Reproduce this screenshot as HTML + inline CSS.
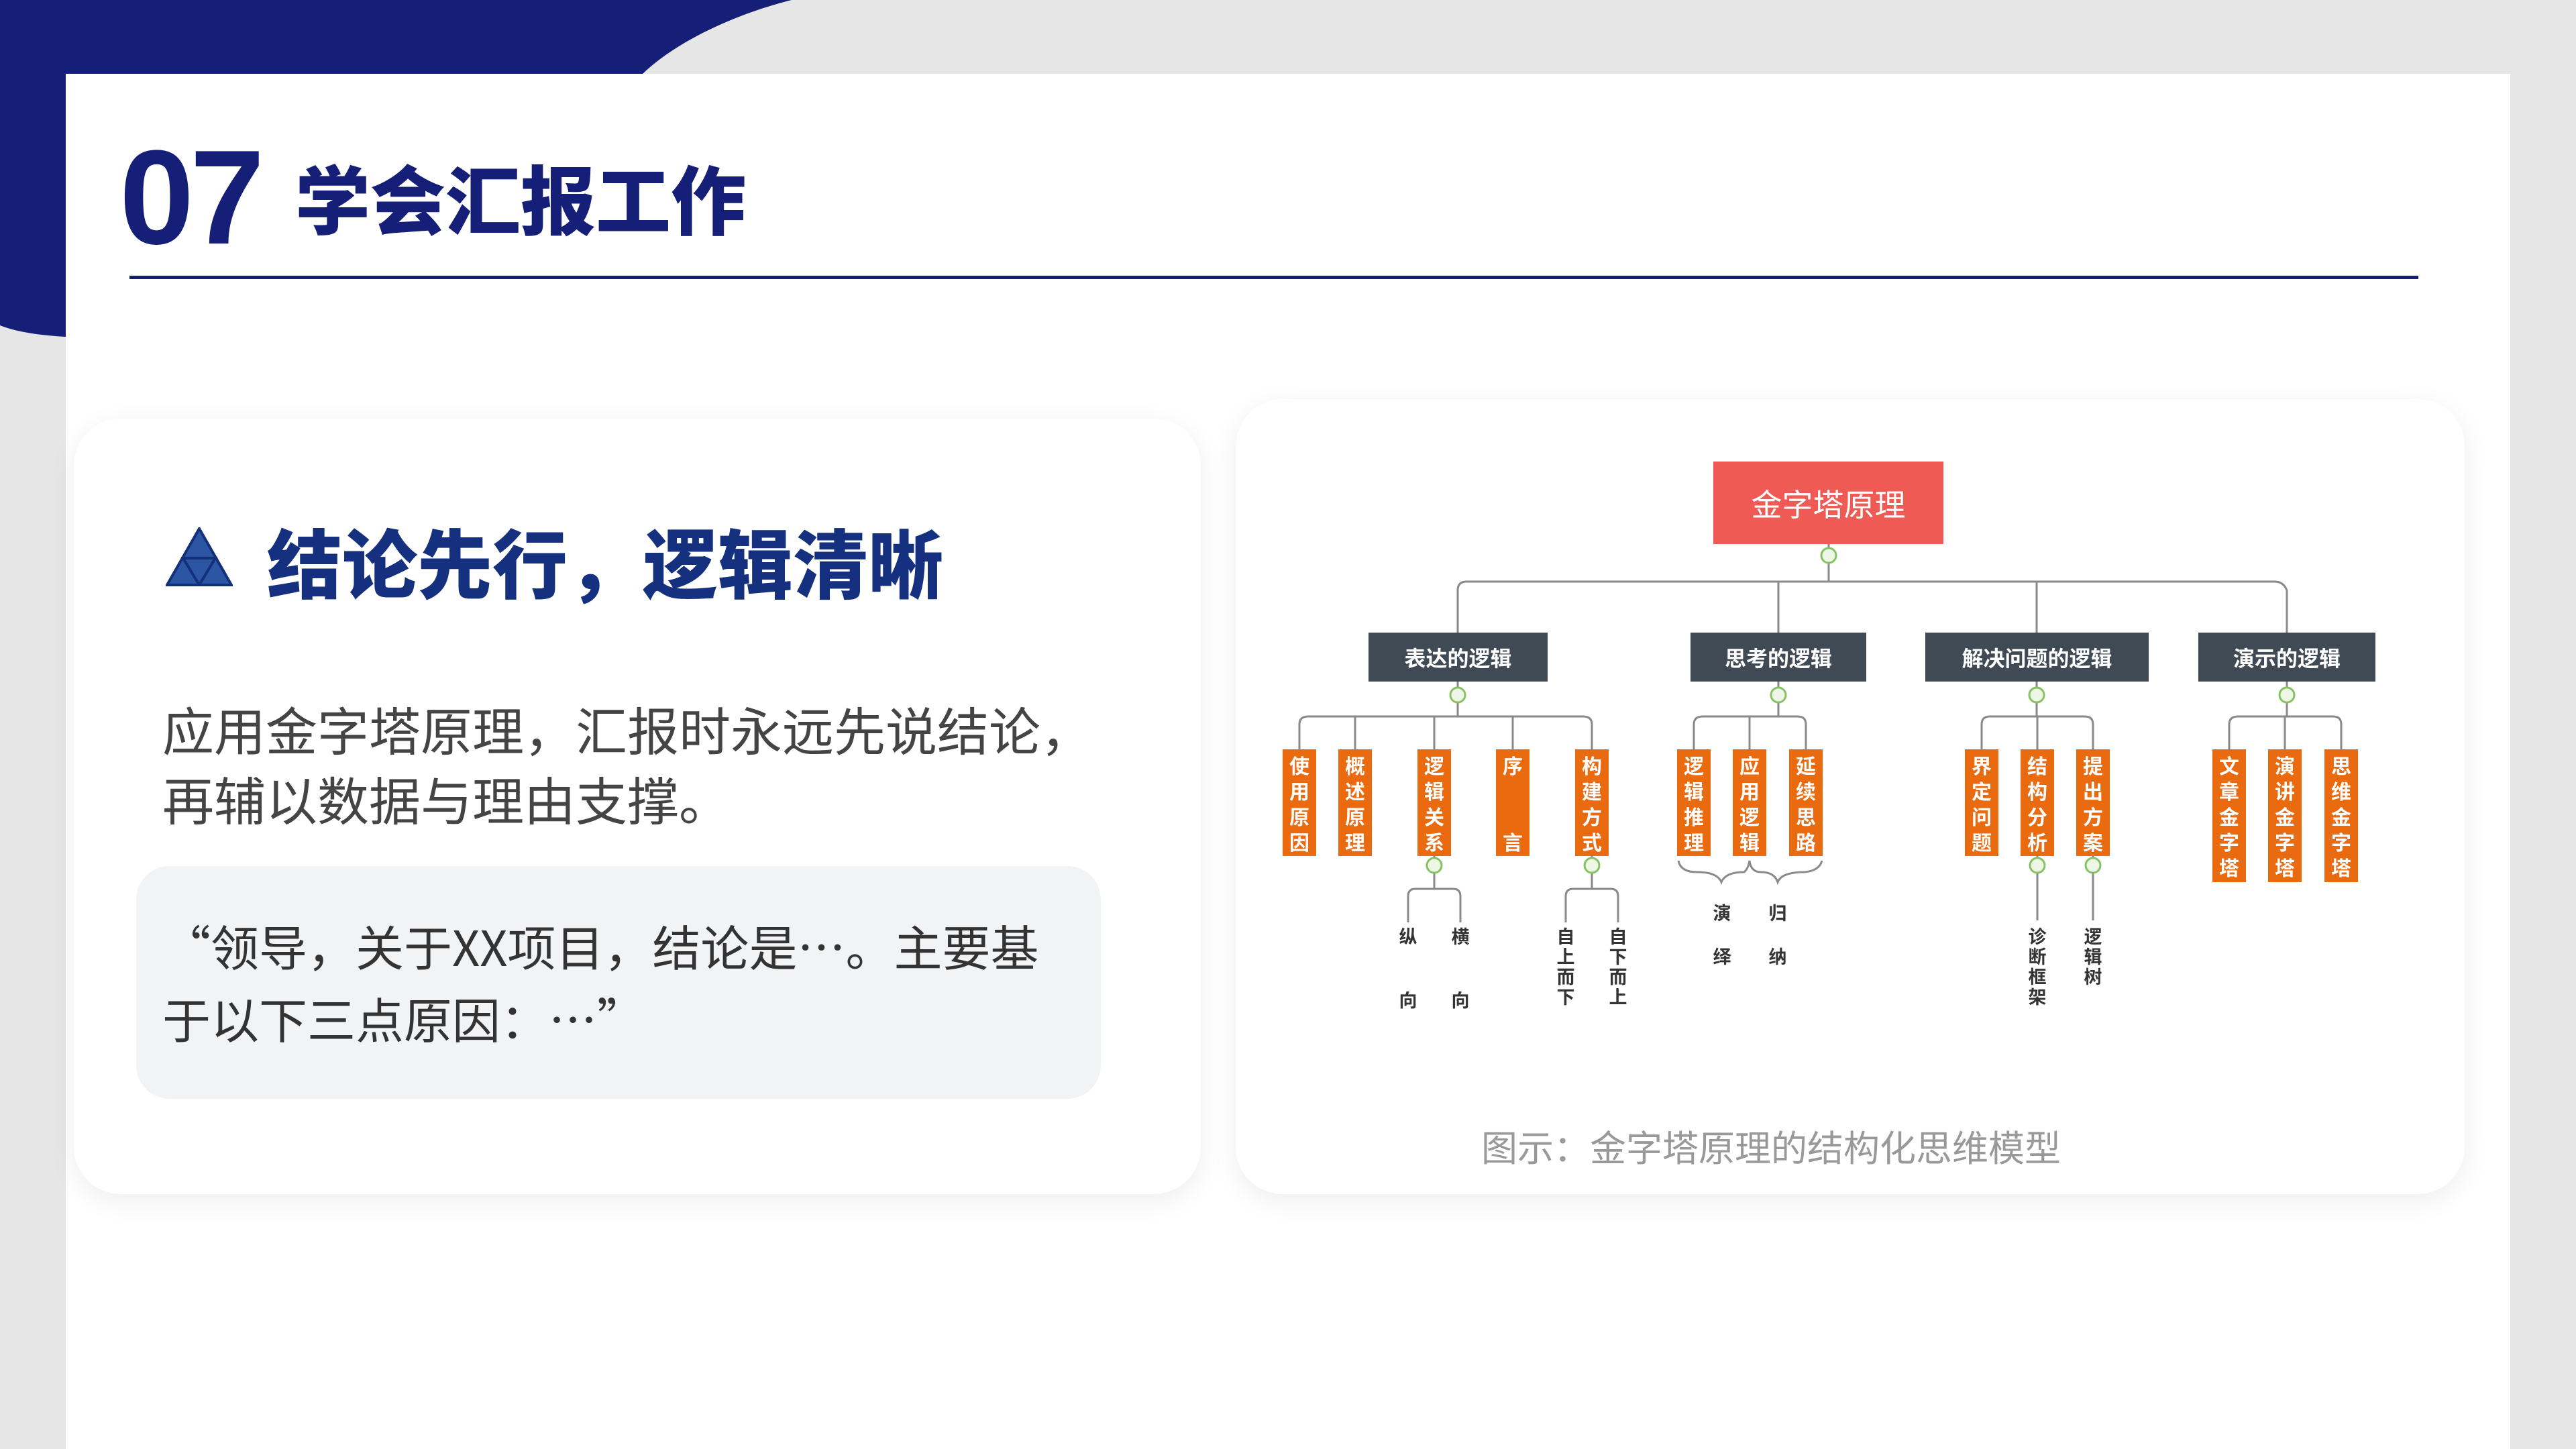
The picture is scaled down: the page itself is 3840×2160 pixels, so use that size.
<!DOCTYPE html>
<html><head><meta charset="utf-8"><style>
*{margin:0;padding:0;box-sizing:border-box}
body{width:3840px;height:2160px;background:#e6e6e6;position:relative;overflow:hidden;font-family:"Liberation Sans","Noto Sans CJK SC",sans-serif}
.a{position:absolute}
.card{position:absolute;background:#fff;border-radius:70px;box-shadow:0 10px 40px rgba(0,0,0,0.07)}
.l2{position:absolute;top:943px;height:73px;background:#3f4a54;color:#fff;font-weight:bold;font-size:32px;display:flex;align-items:center;justify-content:center;font-family:"Noto Sans CJK SC",sans-serif}
.o{position:absolute;top:1117px;width:50px;background:#ea6a10;color:#fff;font-weight:bold;font-size:30px;line-height:38px;text-align:center;padding-top:4px;font-family:"Noto Sans CJK SC",sans-serif}
.t{position:absolute;color:#333;font-size:27px;line-height:30px;text-align:center;width:40px;font-family:"Noto Sans CJK SC",sans-serif;font-weight:bold}
</style></head><body>
<svg class="a" style="left:0;top:0" width="1300" height="520"><path d="M0 0H1180C1100 20 1010 60 958 110H98V502C60 500 25 495 0 485Z" fill="#161f78"/></svg>
<div class="a" style="left:98px;top:110px;width:3644px;height:2050px;background:#fff"></div>
<div class="a" style="left:178px;top:195px;font-size:200px;font-weight:bold;color:#161f78;line-height:200px;letter-spacing:-6px">07</div>
<div class="a" style="left:440px;top:228px;font-size:112px;font-weight:900;color:#161f78;line-height:130px;font-family:'Noto Sans CJK SC',sans-serif">学会汇报工作</div>
<div class="a" style="left:193px;top:411px;width:3412px;height:5px;background:#161f78"></div>

<div class="card" style="left:110px;top:624px;width:1680px;height:1156px"></div>
<svg class="a" style="left:247px;top:786px" width="100" height="88"><polygon points="50,2 98,86 2,86" fill="#2c55a3" stroke="#13307a" stroke-width="4"/><polygon points="26,46 74,46 50,86" fill="none" stroke="#13307a" stroke-width="4"/></svg>
<div class="a" style="left:398px;top:770px;font-size:112px;font-weight:900;color:#14307e;line-height:130px;font-family:'Noto Sans CJK SC',sans-serif">结论先行，逻辑清晰</div>
<div class="a" style="left:242px;top:1035px;font-size:77px;color:#444;line-height:104px;font-family:'Noto Sans CJK SC',sans-serif">应用金字塔原理，汇报时永远先说结论，<br>再辅以数据与理由支撑。</div>
<div class="a" style="left:203px;top:1291px;width:1438px;height:347px;background:#f2f3f5;border-radius:50px"></div>
<div class="a" style="left:242px;top:1355px;width:1360px;font-size:72px;color:#333;line-height:108px;font-family:'Noto Sans CJK SC',sans-serif">“领导，关于XX项目，结论是…。主要基<br>于以下三点原因：…”</div>

<div class="card" style="left:1842px;top:595px;width:1832px;height:1185px"></div>
<div class="a" style="left:2000px;top:1668px;width:1280px;text-align:center;font-size:54px;color:#999;line-height:80px;font-family:'Noto Sans CJK SC',sans-serif">图示：金字塔原理的结构化思维模型</div>

<svg class="a" style="left:0;top:0" width="3840" height="2160" fill="none" stroke="#8a8a8a" stroke-width="3">
<path d="M2726 811V867M2173 943V880Q2173 867 2186 867H3391Q3404 867 3409 880V943M2651 867V943M3036 867V943"/>
<path d="M2173 1016V1068M1937 1117V1080Q1937 1068 1950 1068H2360Q2373 1068 2373 1080V1117M2020 1068V1117M2138 1068V1117M2255 1068V1117"/>
<path d="M2651 1016V1068M2525 1117V1080Q2525 1068 2538 1068H2680Q2692 1068 2692 1080V1117M2608 1068V1117"/>
<path d="M3036 1016V1068M2954 1117V1080Q2954 1068 2966 1068H3108Q3120 1068 3120 1080V1117M3037 1068V1117"/>
<path d="M3409 1016V1068M3323 1117V1080Q3323 1068 3336 1068H3478Q3490 1068 3490 1080V1117M3406 1068V1117"/>
<path d="M2138 1276V1325M2099 1375V1336Q2099 1325 2110 1325H2166Q2177 1325 2177 1336V1375"/>
<path d="M2373 1276V1325M2334 1375V1336Q2334 1325 2345 1325H2401Q2412 1325 2412 1336V1375"/>
<path d="M3037 1276V1372M3120 1276V1372"/>
<path d="M2502 1283Q2505 1300 2530 1300Q2560 1300 2566 1315Q2572 1300 2600 1300Q2606 1295 2608 1283M2608 1283Q2610 1300 2625 1300Q2645 1300 2650 1315Q2656 1300 2690 1300Q2712 1298 2716 1283"/>
</svg>
<svg class="a" style="left:0;top:0" width="3840" height="2160">
<g fill="#eef7e6" stroke="#86c264" stroke-width="3">
<circle cx="2726" cy="828" r="11"/><circle cx="2173" cy="1036" r="11"/><circle cx="2651" cy="1036" r="11"/><circle cx="3036" cy="1036" r="11"/><circle cx="3409" cy="1036" r="11"/>
<circle cx="2138" cy="1290" r="11"/><circle cx="2373" cy="1290" r="11"/><circle cx="3037" cy="1290" r="11"/><circle cx="3120" cy="1290" r="11"/>
</g></svg>

<div class="a" style="left:2554px;top:688px;width:343px;height:123px;background:#f05a55;color:#fff;font-size:46px;display:flex;align-items:center;justify-content:center;font-family:'Noto Sans CJK SC',sans-serif">金字塔原理</div>
<div class="l2" style="left:2040px;width:267px">表达的逻辑</div>
<div class="l2" style="left:2520px;width:262px">思考的逻辑</div>
<div class="l2" style="left:2870px;width:333px">解决问题的逻辑</div>
<div class="l2" style="left:3277px;width:264px">演示的逻辑</div>

<div class="o" style="left:1912px;height:159px">使<br>用<br>原<br>因</div>
<div class="o" style="left:1995px;height:159px">概<br>述<br>原<br>理</div>
<div class="o" style="left:2113px;height:159px">逻<br>辑<br>关<br>系</div>
<div class="o" style="left:2230px;height:159px">序<br><br><br>言</div>
<div class="o" style="left:2348px;height:159px">构<br>建<br>方<br>式</div>
<div class="o" style="left:2500px;height:159px">逻<br>辑<br>推<br>理</div>
<div class="o" style="left:2583px;height:159px">应<br>用<br>逻<br>辑</div>
<div class="o" style="left:2667px;height:159px">延<br>续<br>思<br>路</div>
<div class="o" style="left:2929px;height:159px">界<br>定<br>问<br>题</div>
<div class="o" style="left:3012px;height:159px">结<br>构<br>分<br>析</div>
<div class="o" style="left:3095px;height:159px">提<br>出<br>方<br>案</div>
<div class="o" style="left:3298px;height:198px">文<br>章<br>金<br>字<br>塔</div>
<div class="o" style="left:3381px;height:198px">演<br>讲<br>金<br>字<br>塔</div>
<div class="o" style="left:3465px;height:198px">思<br>维<br>金<br>字<br>塔</div>

<div class="t" style="left:2079px;top:1380px">纵</div><div class="t" style="left:2079px;top:1475px">向</div>
<div class="t" style="left:2157px;top:1380px">横</div><div class="t" style="left:2157px;top:1475px">向</div>
<div class="t" style="left:2314px;top:1380px">自<br>上<br>而<br>下</div>
<div class="t" style="left:2392px;top:1380px">自<br>下<br>而<br>上</div>
<div class="t" style="left:2547px;top:1345px">演</div><div class="t" style="left:2547px;top:1410px">绎</div>
<div class="t" style="left:2630px;top:1345px">归</div><div class="t" style="left:2630px;top:1410px">纳</div>
<div class="t" style="left:3017px;top:1380px">诊<br>断<br>框<br>架</div>
<div class="t" style="left:3100px;top:1380px">逻<br>辑<br>树</div>
</body></html>
